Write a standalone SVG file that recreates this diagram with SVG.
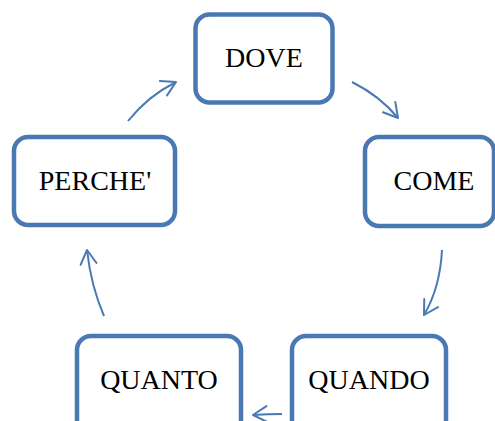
<svg xmlns="http://www.w3.org/2000/svg" width="495" height="421" viewBox="0 0 495 421">
<style>
.box{fill:#fff;stroke:#4a78b2;stroke-width:4.5}
.lbl{font-family:"Liberation Serif","Times New Roman",serif;font-size:28px;fill:#000;text-anchor:middle}
.conn{fill:none;stroke:#4a7ab6;stroke-width:2;marker-end:url(#ah)}
</style>
<defs>
<marker id="ah" viewBox="-16 -9 18 18" refX="0" refY="0" markerWidth="18" markerHeight="18" markerUnits="userSpaceOnUse" orient="auto" overflow="visible">
<path d="M-14,-8 L0,0 L-14,8" fill="none" stroke="#4a7ab6" stroke-width="2" stroke-linecap="round" stroke-linejoin="round"/>
</marker>
</defs>
<rect width="495" height="421" fill="#fff"/>
<g id="connectors">
<path class="conn" d="M352,82 Q380,96 398,118"/>
<path class="conn" d="M442,250 Q440,288 424,315"/>
<path class="conn" d="M282,414 Q268,414 253,415"/>
<path class="conn" d="M104,316 Q91,286 87,250"/>
<path class="conn" d="M128,121 Q148,96 176,82"/>
</g>
<g id="dove"><rect class="box" x="195.5" y="14.5" width="137" height="88" rx="14"/><text class="lbl" x="264" y="67">DOVE</text></g>
<g id="come"><rect class="box" x="365" y="137" width="129" height="89" rx="14"/><text class="lbl" x="434" y="190">COME</text></g>
<g id="quando"><rect class="box" x="292" y="336" width="154" height="100" rx="14"/><text class="lbl" x="369" y="389">QUANDO</text></g>
<g id="quanto"><rect class="box" x="77" y="336" width="164" height="100" rx="14"/><text class="lbl" x="159" y="389">QUANTO</text></g>
<g id="perche"><rect class="box" x="14" y="137" width="161" height="88" rx="14"/><text class="lbl" x="95" y="190">PERCHE'</text></g>
</svg>
